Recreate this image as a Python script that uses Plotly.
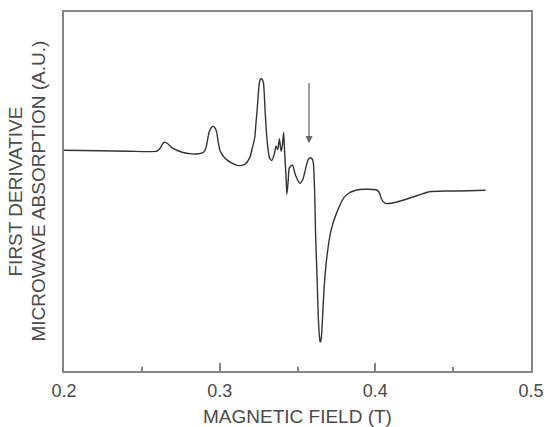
import plotly.graph_objects as go

# Magnetic field (T) and first-derivative microwave absorption (a.u.)
field_T = [0.2000, 0.2229, 0.2419, 0.2597, 0.2617, 0.2642, 0.2667, 0.2695, 0.2758, 0.2822,
           0.2864, 0.2896, 0.2909, 0.2917, 0.2932, 0.2947, 0.2960, 0.2972, 0.2981, 0.2992,
           0.3004, 0.3023, 0.3049, 0.3076, 0.3119, 0.3161, 0.3193, 0.3208, 0.3225, 0.3233,
           0.3241, 0.3252, 0.3260, 0.3267, 0.3274, 0.3282, 0.3292, 0.3305, 0.3320, 0.3335,
           0.3352, 0.3362, 0.3373, 0.3384, 0.3394, 0.3402, 0.3411, 0.3417, 0.3426, 0.3432,
           0.3440, 0.3447, 0.3457, 0.3468, 0.3489, 0.3517, 0.3535, 0.3553, 0.3570, 0.3585,
           0.3595, 0.3602, 0.3610, 0.3616, 0.3627, 0.3633, 0.3642, 0.3646, 0.3653, 0.3659,
           0.3670, 0.3686, 0.3712, 0.3729, 0.3754, 0.3797, 0.3831, 0.3860, 0.3900, 0.3945,
           0.4008, 0.4026, 0.4040, 0.4061, 0.4104, 0.4199, 0.4305, 0.4347, 0.4453, 0.4538,
           0.4708]
absorption_au = [222, 221.5, 221, 221, 224, 230, 228.5, 224.3, 220, 218.3,
                 218.5, 220, 223, 228, 240, 245, 246, 244, 240, 229,
                 221, 216, 212, 209.3, 206.5, 207.7, 214.3, 223, 234.3, 249,
                 263, 286, 293, 294.3, 293, 289, 261, 231, 214.3, 211.7,
                 219, 226, 222.7, 233.7, 221, 226, 240, 221, 196, 177.7,
                 191, 204, 206, 207, 196, 188.7, 193, 204, 213, 214.5,
                 213, 209, 181, 138, 88, 56, 33, 29, 33, 48,
                 81, 111, 139, 149, 160, 174, 179, 181, 182.5, 182.7,
                 182, 179.3, 172.7, 168.7, 168.7, 172.7, 178.3, 180.3, 181, 181,
                 181.7]

x_ticks = [0.2, 0.3, 0.4, 0.5]
x_tick_text = ["0.2", "0.3", "0.4", "0.5"]
arrow_field = 0.3574
arrow_tip = 229
arrow_tail = 291

FONT = "Liberation Sans, Arial, sans-serif"
TXT = "#4a4a4a"
FRAME = "#858585"

fig = go.Figure()
fig.add_trace(go.Scatter(
    x=field_T, y=absorption_au, mode="lines",
    line=dict(color="#333333", width=1.4, shape="spline", smoothing=0.6),
    showlegend=False, hoverinfo="skip"))

fig.add_annotation(x=arrow_field, y=arrow_tip, ax=arrow_field, ay=arrow_tail,
                   xref="x", yref="y", axref="x", ayref="y",
                   showarrow=True, arrowhead=2, arrowsize=1.2, arrowwidth=1.2,
                   arrowcolor="#666666", text="")

fig.update_xaxes(range=[0.2, 0.5], tickvals=x_ticks, ticktext=x_tick_text,
                 ticks="inside", ticklen=8, tickwidth=1.5, tickcolor=FRAME,
                 minor=dict(ticks="inside", ticklen=4, tickwidth=1.5, tickcolor=FRAME, dtick=0.05),
                 showline=True, linecolor=FRAME, linewidth=2, mirror=True,
                 showgrid=False, zeroline=False,
                 tickfont=dict(family=FONT, size=18, color=TXT), ticklabelstandoff=2)
fig.update_yaxes(range=[0, 361], showticklabels=False, ticks="",
                 showline=True, linecolor=FRAME, linewidth=2, mirror=True,
                 showgrid=False, zeroline=False)

fig.add_annotation(text="MAGNETIC FIELD (T)", xref="paper", yref="paper",
                   x=0.5, y=0, yshift=-45, xanchor="center", yanchor="middle",
                   showarrow=False, font=dict(family=FONT, size=19, color=TXT))
fig.add_annotation(text="FIRST DERIVATIVE", xref="paper", yref="paper",
                   x=0, y=0.5, xshift=-49, xanchor="center", yanchor="middle",
                   textangle=-90, showarrow=False, font=dict(family=FONT, size=19, color=TXT))
fig.add_annotation(text="MICROWAVE ABSORPTION (A.U.)", xref="paper", yref="paper",
                   x=0, y=0.5, xshift=-26, xanchor="center", yanchor="middle",
                   textangle=-90, showarrow=False, font=dict(family=FONT, size=19, color=TXT))

fig.update_layout(width=554, height=427, margin=dict(l=64, r=18, t=10, b=56),
                  plot_bgcolor="white", paper_bgcolor="white")
fig.write_html("out.html")
